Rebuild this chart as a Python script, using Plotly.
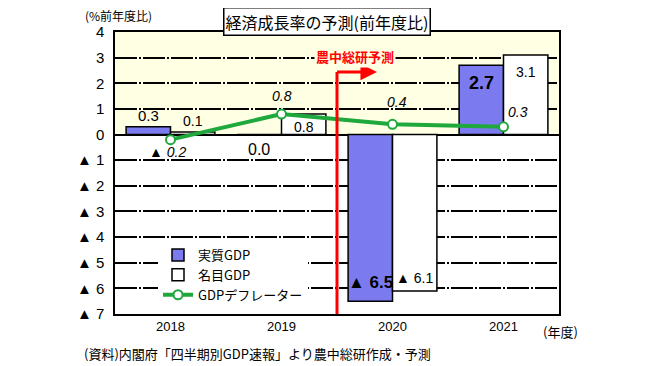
import plotly.graph_objects as go

# ---- data ----
years = ["2018", "2019", "2020", "2021"]
real_gdp = [0.3, 0.0, -6.5, 2.7]
nominal_gdp = [0.1, 0.8, -6.1, 3.1]
deflator = [-0.2, 0.8, 0.4, 0.3]
y_tickvals = [4, 3, 2, 1, 0, -1, -2, -3, -4, -5, -6, -7]
y_ticktext = ["4", "3", "2", "1", "0", "▲\u00a01", "▲\u00a02", "▲\u00a03", "▲\u00a04",
              "▲\u00a05", "▲\u00a06", "▲\u00a07"]
series_names = ["実質GDP", "名目GDP", "GDPデフレーター"]
title_text = "経済成長率の予測(前年度比)"
unit_text = "(%前年度比)"
xunit_text = "(年度)"
source_text = "(資料)内閣府「四半期別GDP速報」より農中総研作成・予測"
forecast_text = "農中総研予測"
forecast_start = 1.5  # boundary between 2019 and 2020 (category index)

FONT = "Liberation Sans, Noto Sans CJK JP, sans-serif"
JFONT = "Noto Sans CJK JP, sans-serif"
BLUE = "#7B7BEF"
GREEN = "#1FA83C"
YELLOW = "#FFFFE3"

# page body margin offset (px) and plot area in screen pixels
OFF = 8
PL, PR, PT, PB = 115, 559, 32, 314


def px(xp):
    return (xp - PL) / (PR - PL)


def py(yp):
    return (PB - yp) / (PB - PT)


def fmt(v):
    return ("▲ %.1f" % abs(v)) if v < 0 else ("%.1f" % v)


fig = go.Figure()
fig.add_trace(go.Bar(x=years, y=real_gdp, name=series_names[0],
                     marker=dict(color=BLUE, line=dict(color="black", width=1.5))))
fig.add_trace(go.Bar(x=years, y=nominal_gdp, name=series_names[1],
                     marker=dict(color="white", line=dict(color="black", width=1.5))))
fig.add_trace(go.Scatter(x=years, y=deflator, name=series_names[2], mode="lines+markers",
                         line=dict(color=GREEN, width=4),
                         marker=dict(size=9, color="white", line=dict(color=GREEN, width=2))))

# yellow background for positive area
fig.add_shape(type="rect", xref="x domain", yref="y", x0=0, x1=1, y0=0, y1=4,
              fillcolor=YELLOW, line=dict(width=0), layer="below")

# value labels: (yshift px, font size, bold)
real_style = [(11, 15, False), (-15, 16, False), (19, 17, True), (-18, 18, True)]
nom_style = [(11, 14, False), (-13, 14, False), (13, 14, False), (-17, 14, False)]
defl_style = [(-3, -12), (0, 18), (4, 22), (14, 15)]

for i, v in enumerate(real_gdp):
    ys, fs, b = real_style[i]
    t = fmt(v)
    fig.add_annotation(x=i - 0.2, y=v, text=("<b>%s</b>" % t) if b else t, showarrow=False,
                       yshift=ys, xanchor="center", yanchor="middle",
                       font=dict(size=fs, color="black", family=FONT))
for i, v in enumerate(nominal_gdp):
    ys, fs, b = nom_style[i]
    fig.add_annotation(x=i + 0.2, y=v, text=fmt(v), showarrow=False,
                       yshift=ys, xanchor="center", yanchor="middle",
                       font=dict(size=fs, color="black", family=FONT))
for i, v in enumerate(deflator):
    xs, ys = defl_style[i]
    fig.add_annotation(x=i, y=v, text="<i>%s</i>" % fmt(v), showarrow=False,
                       xshift=xs, yshift=ys, xanchor="center", yanchor="middle",
                       font=dict(size=14, color="black", family=FONT))

# forecast line and arrow
fig.add_shape(type="line", xref="x", yref="y", x0=forecast_start, x1=forecast_start,
              y0=-7, y1=2.44, line=dict(color="#FF0000", width=3))
fig.add_annotation(x=forecast_start + 0.36, y=2.44, ax=forecast_start - 0.013, ay=2.44,
                   xref="x", yref="y", axref="x", ayref="y", text="", showarrow=True,
                   arrowhead=2, arrowsize=1.1, arrowwidth=3, arrowcolor="#FF0000")
fig.add_annotation(x=forecast_start + 0.16, y=3.03, xref="x", yref="y", text="<b>%s</b>" % forecast_text,
                   showarrow=False, bgcolor=YELLOW, xanchor="center", yanchor="middle",
                   font=dict(size=13, color="#FF0000", family=JFONT))

# title box and other texts
fig.add_annotation(xref="paper", yref="paper", x=px(327), y=py(21),
                   xanchor="center", yanchor="middle",
                   text=title_text, showarrow=False, bgcolor="white", bordercolor="black",
                   borderwidth=1.5, borderpad=1, font=dict(size=16, color="black", family=JFONT))
fig.add_annotation(xref="paper", yref="paper", x=px(118), y=py(16),
                   xanchor="center", yanchor="middle", text=unit_text, showarrow=False,
                   font=dict(size=12, color="black", family=JFONT))
fig.add_annotation(xref="paper", yref="paper", x=px(560), y=py(331),
                   xanchor="center", yanchor="middle",
                   text=xunit_text, showarrow=False, font=dict(size=13, color="black", family=JFONT))
fig.add_annotation(xref="paper", yref="paper", x=px(82), y=py(353),
                   xanchor="left", yanchor="middle", text=source_text, showarrow=False,
                   font=dict(size=13, color="black", family=JFONT))

fig.update_layout(
    width=650, height=366,
    margin=dict(l=PL - OFF, r=650 - PR + OFF, t=PT - OFF, b=366 - PB + OFF),
    paper_bgcolor="white", plot_bgcolor="white",
    barmode="group", bargap=0.2, bargroupgap=0,
    font=dict(family=FONT, size=13, color="black"),
    legend=dict(x=px(158), y=py(240), xanchor="left", yanchor="top",
                bgcolor="white", font=dict(size=13, family=JFONT), tracegroupgap=0,
                itemwidth=30),
    showlegend=True,
)
fig.update_xaxes(type="category", range=[-0.5, 3.5], showgrid=False, showline=True,
                 linecolor="black", linewidth=1.5, mirror=True, ticks="",
                 tickfont=dict(size=13, family=FONT))
fig.update_yaxes(range=[-7, 4], tickvals=y_tickvals, ticktext=y_ticktext,
                 showgrid=True, gridcolor="black", gridwidth=1.5, griddash="22px,2px,2px,2px",
                 zeroline=True, zerolinecolor="black", zerolinewidth=2,
                 showline=True, linecolor="black", linewidth=1.5, mirror=True, ticks="",
                 ticklabelstandoff=6,
                 tickfont=dict(size=15, family=FONT))

fig.write_html("out.html")
